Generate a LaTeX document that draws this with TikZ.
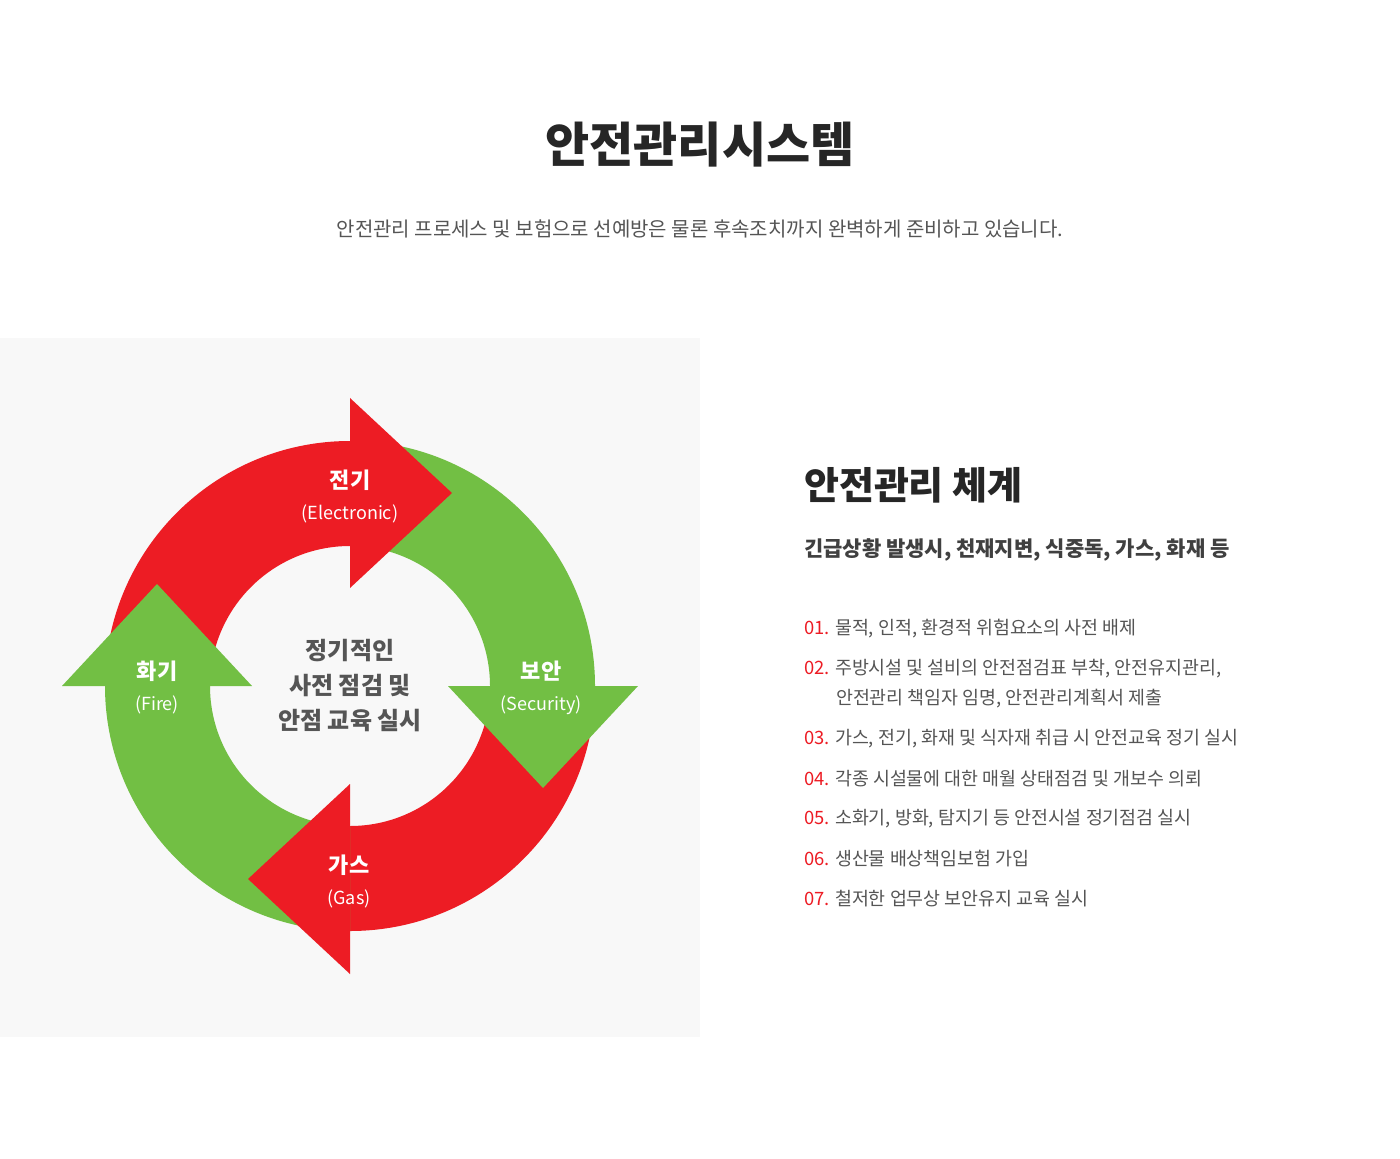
\documentclass[tikz,border=0pt]{standalone}
\usepackage{fontspec}
\setmainfont{Noto Sans CJK KR}
\usepackage{xcolor}
\usetikzlibrary{calc, positioning}
\definecolor{cyred}{HTML}{ED1C24}
\definecolor{cygreen}{HTML}{72BF44}
\definecolor{txgray}{HTML}{555555}
\definecolor{panel}{HTML}{F8F8F8}

\begin{document}
\begin{tikzpicture}[x=0.5pt, y=0.5pt,
    head/.style={font=\bfseries\fontsize{11}{13}\selectfont, text=white},
    sub/.style={font=\fontsize{9}{11}\selectfont, text=white},
    item/.style={anchor=west, font=\fontsize{9.2}{11}\selectfont, text=txgray},
    num/.style={text=cyred}]
    % Canvas
    \useasboundingbox (0,0) rectangle (1400,1158);
    \fill[white] (0,0) rectangle (1400,1158);
    \fill[panel] (0,121) rectangle (700,820);
    % Title
    \node[font=\bfseries\fontsize{24}{28}\selectfont, text=black!85] (title) at (700,1013) {안전관리시스템};
    \node[font=\fontsize{10}{12}\selectfont, text=txgray] (subtitle) at (700,929)
        {안전관리 프로세스 및 보험으로 선예방은 물론 후속조치까지 완벽하게 준비하고 있습니다.};
    % Cycle
    \coordinate (c) at (350,472);
    \begin{scope}[shift={(c)}]
        % Bands
        \foreach \a/\col in {180/cyred, 90/cygreen, 0/cyred, -90/cygreen}
            \fill[\col] (\a:245) arc[start angle=\a, end angle=\a-90, radius=245]
                -- (\a-90:140) arc[start angle=\a-90, end angle=\a, radius=140] -- cycle;
        % Heads
        \foreach \a/\col in {90/cyred, 0/cygreen, -90/cyred, 180/cygreen}
            \fill[\col] (\a:98) -- ($(\a:193)+(\a-90:102)$) -- (\a:288) -- cycle;
    \end{scope}
    % Cycle labels
    \node[head] (elec) at (350,678) {전기};
    \node[sub, below=0pt of elec] (eleclbl) {(Electronic)};
    \node[head] (fire) at (157,487) {화기};
    \node[sub, below=0pt of fire] (firelbl) {(Fire)};
    \node[head] (secu) at (541,487) {보안};
    \node[sub, below=0pt of secu] (seculbl) {(Security)};
    \node[head] (gas) at (349,293) {가스};
    \node[sub, below=0pt of gas] (gaslbl) {(Gas)};
    \node[align=center, text=txgray, font=\bfseries\fontsize{12}{17.5}\selectfont] (center) at (c)
        {정기적인\\사전 점검 및\\안점 교육 실시};
    % Right column
    \node[anchor=west, font=\bfseries\fontsize{19}{22}\selectfont, text=black!85] (sys) at (797,673) {안전관리 체계};
    \node[anchor=west, font=\bfseries\fontsize{10.5}{12}\selectfont, text=black!75] (emerg) at (797,608)
        {긴급상황 발생시, 천재지변, 식중독, 가스, 화재 등};
    \node[item] (i1) at (797,529) {\textcolor{cyred}{01.} 물적, 인적, 환경적 위험요소의 사전 배제};
    \node[item] (i2) at (797,489) {\textcolor{cyred}{02.} 주방시설 및 설비의 안전점검표 부착, 안전유지관리,};
    \node[item] (i2b) at (829,459) {안전관리 책임자 임명, 안전관리계획서 제출};
    \node[item] (i3) at (797,419) {\textcolor{cyred}{03.} 가스, 전기, 화재 및 식자재 취급 시 안전교육 정기 실시};
    \node[item] (i4) at (797,379) {\textcolor{cyred}{04.} 각종 시설물에 대한 매월 상태점검 및 개보수 의뢰};
    \node[item] (i5) at (797,339) {\textcolor{cyred}{05.} 소화기, 방화, 탐지기 등 안전시설 정기점검 실시};
    \node[item] (i6) at (797,299) {\textcolor{cyred}{06.} 생산물 배상책임보험 가입};
    \node[item] (i7) at (797,259) {\textcolor{cyred}{07.} 철저한 업무상 보안유지 교육 실시};
\end{tikzpicture}
\end{document}
